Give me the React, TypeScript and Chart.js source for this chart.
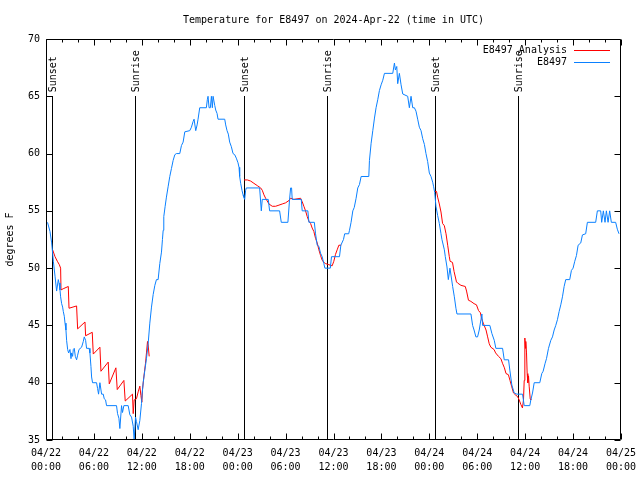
import { useEffect, useRef } from "react";
import { Chart, registerables } from "chart.js";

Chart.register(...registerables);

const TITLE = "Temperature for E8497 on 2024-Apr-22 (time in UTC)";
const Y_TITLE = "degrees F";
const FONT = '"DejaVu Sans Mono", "Liberation Mono", monospace';

const X_TICK_HOURS = [0, 6, 12, 18, 24, 30, 36, 42, 48, 54, 60, 66, 72];
const X_TICK_LABELS = [
  ["04/22", "00:00"], ["04/22", "06:00"], ["04/22", "12:00"], ["04/22", "18:00"],
  ["04/23", "00:00"], ["04/23", "06:00"], ["04/23", "12:00"], ["04/23", "18:00"],
  ["04/24", "00:00"], ["04/24", "06:00"], ["04/24", "12:00"], ["04/24", "18:00"],
  ["04/25", "00:00"],
];
const Y_MIN = 35;
const Y_MAX = 70;
const Y_STEP = 5;
const MARKER_TOP = 65;

const SUNSET_HOURS = [0.79, 24.84, 48.66];
const SUNRISE_HOURS = [11.16, 35.16, 59.04];

// station E8497 observations: [hours since 04/22 00:00 UTC, deg F]
const STATION_DAY1: [number, number][] = [
  [0.19, 54], [0.5, 53.2], [0.71, 52.2], [0.92, 50.6], [1.13, 49.3], [1.33, 48], [1.54, 49], [1.63, 48.7],
  [1.75, 48.1], [1.83, 47.5], [1.96, 46.9], [2.08, 46.6], [2.17, 46.2], [2.29, 45.8], [2.38, 45.2], [2.5, 44.6],
  [2.58, 43.7], [2.71, 42.9], [2.83, 42.6], [3.0, 42.9], [3.13, 42.1], [3.21, 42.6], [3.33, 42.3], [3.42, 42.9],
  [3.54, 43], [3.67, 42.3], [3.83, 42], [3.96, 42.4], [4.13, 42.9], [4.46, 43.1], [4.67, 43.6], [4.79, 44],
  [4.96, 43.7], [5.08, 43], [5.4, 43], [5.5, 42.6], [5.63, 41.4], [5.71, 40.5], [5.83, 40], [6.33, 40],
  [6.46, 39.5], [6.58, 39], [6.75, 40], [6.96, 39], [7.17, 39], [7.29, 38.6], [7.46, 38.5], [7.58, 38],
  [8.83, 38], [8.96, 37.3], [9.13, 36.9], [9.25, 36], [9.46, 38], [9.58, 37.4], [9.75, 38], [10.29, 38],
  [10.5, 37.2], [10.71, 37], [10.92, 36.2], [11.04, 35], [11.21, 37], [11.33, 36.6], [11.54, 35.9], [11.75, 36.7],
  [11.96, 38.2], [12.04, 39], [12.17, 40], [12.38, 41.1], [12.58, 42.1], [12.79, 43.4], [13.0, 45.2], [13.21, 46.6],
  [13.42, 47.7], [13.63, 48.5], [13.83, 49], [14.04, 49], [14.25, 50.4], [14.46, 51.4], [14.58, 52.5], [14.67, 53.3],
  [14.75, 54.5], [14.92, 55.4], [15.08, 56.2], [15.29, 57.1], [15.5, 58], [15.71, 58.7], [15.92, 59.4], [16.13, 59.9],
  [16.33, 60], [16.75, 60], [16.96, 60.7], [17.17, 61], [17.38, 61.9], [18.0, 62], [18.21, 62.3], [18.42, 62.8],
  [18.54, 63], [18.75, 62], [18.92, 62.5], [19.04, 63], [19.25, 64], [20.08, 64], [20.2, 64.7], [20.29, 65],
  [20.42, 64], [20.58, 64], [20.71, 65], [20.83, 64], [20.92, 65], [21.13, 64.2], [21.25, 63.8], [21.42, 63.5],
  [21.54, 63], [22.38, 63], [22.5, 62.5], [22.67, 62], [22.83, 61.7], [23.0, 61], [23.21, 60.6], [23.42, 60],
  [23.63, 59.9], [23.83, 59.6], [24.04, 59.2], [24.17, 58.8], [24.25, 58], [24.38, 57.4], [24.54, 56.8], [24.67, 56.4],
  [24.75, 56.2], [24.88, 56],
];
const STATION_DAY2: [number, number][] = [
  [25.0, 56.8], [25.08, 57], [26.75, 57], [26.96, 55], [27.08, 56], [27.83, 56], [28.0, 55], [29.25, 55],
  [29.46, 54], [30.29, 54], [30.5, 56], [30.63, 57], [30.75, 57], [30.83, 56], [31.96, 56], [32.08, 55],
  [32.79, 55], [32.92, 54], [33.6, 54], [33.75, 53], [33.96, 52], [34.17, 51.9], [34.38, 51.3], [34.58, 51],
  [34.79, 50.4], [34.92, 50], [35.6, 50], [35.75, 51], [36.75, 51], [36.92, 52], [37.25, 52.5], [37.4, 53],
  [37.9, 53], [38.0, 53.3], [38.2, 54], [38.42, 55], [38.6, 55.3], [38.83, 56.1], [39.04, 57], [39.25, 57.3],
  [39.46, 58], [40.42, 58], [40.5, 59.4], [40.71, 60.9], [40.92, 62], [41.13, 63.1], [41.33, 64], [41.54, 64.7],
  [41.75, 65.5], [41.96, 66], [42.17, 66.4], [42.38, 67], [43.42, 67], [43.63, 67.9], [43.75, 67.3], [43.92, 67.6],
  [44.04, 66.1], [44.25, 67], [44.46, 66], [44.67, 65.2], [45.29, 65], [45.5, 64], [45.71, 65], [45.92, 64],
  [46.13, 64], [46.33, 63.7], [46.54, 63], [46.75, 62.3], [46.96, 62], [47.17, 61.3], [47.38, 60.8], [47.58, 60],
  [47.79, 59.3], [48.0, 58.3], [48.21, 58], [48.42, 57.5], [48.54, 57.1], [48.67, 56.6], [48.83, 55.4],
];
const STATION_DAY3: [number, number][] = [
  [49.04, 54.6], [49.25, 53.9], [49.46, 53], [49.58, 52.5], [49.88, 51.6], [50.0, 51], [50.21, 50.1], [50.38, 49],
  [50.58, 50], [50.71, 49.4], [50.92, 48.4], [51.13, 47.5], [51.33, 46.5], [51.46, 46], [53.21, 46], [53.42, 45],
  [53.6, 44.6], [53.83, 44], [54.04, 44], [54.25, 44.6], [54.46, 45.5], [54.58, 46], [54.67, 45], [55.58, 45],
  [55.83, 44.3], [56.13, 43.7], [56.33, 43], [57.17, 43], [57.38, 42], [57.92, 42], [58.08, 41.1], [58.33, 39.8],
  [58.63, 39.1], [58.96, 39], [59.67, 39], [59.88, 38], [60.58, 38], [60.71, 38.5], [60.92, 39.1], [61.13, 40],
  [61.83, 40], [62.08, 40.8], [62.25, 41], [62.5, 41.7], [62.67, 42.1], [62.92, 43], [63.21, 43.7], [63.42, 44],
  [63.63, 44.6], [63.83, 45], [64.04, 45.5], [64.25, 46.2], [64.46, 46.8], [64.67, 47.5], [64.88, 48.4], [65.08, 49],
  [65.58, 49], [65.79, 49.8], [66.0, 50], [66.21, 50.6], [66.42, 51.1], [66.63, 52], [66.96, 52.2], [67.17, 52.9],
  [67.58, 53], [67.79, 54], [68.83, 54], [69.04, 55], [69.46, 55], [69.58, 54], [69.79, 55], [70.0, 54],
  [70.17, 55], [70.38, 54], [70.58, 55], [70.79, 54], [71.33, 54], [71.54, 53.4], [71.75, 53],
];

// E8497 Analysis (three nights)
const ANALYSIS_NIGHT1: [number, number][] = [
  [0.83, 51.6], [1.13, 51], [1.42, 50.6], [1.67, 50.3], [1.83, 50], [1.88, 48.1], [2.15, 48.2], [2.79, 48.4],
  [2.88, 46.5], [3.83, 46.7], [3.96, 44.7], [4.88, 45.3], [4.96, 44.1], [5.79, 44.4], [5.92, 42.5], [6.75, 43.1],
  [6.88, 41], [7.79, 41.8], [7.92, 39.9], [8.75, 41.3], [8.92, 39.4], [9.75, 40.2], [9.92, 38.4], [10.83, 39],
  [10.92, 37.3], [11.04, 38.5], [11.33, 38.6], [11.54, 39.2], [11.75, 39.7], [11.88, 38.9], [12.0, 38.3], [12.08, 39.4],
  [12.25, 40.5], [12.46, 41.7], [12.58, 42.6], [12.71, 43.6], [12.79, 43.3], [12.92, 42.3],
];
const ANALYSIS_NIGHT2: [number, number][] = [
  [24.79, 57.7], [25.21, 57.7], [25.63, 57.6], [26.04, 57.4], [26.46, 57.2], [26.88, 57], [27.08, 56.8], [27.29, 56.4],
  [27.5, 56.1], [27.92, 55.6], [28.33, 55.4], [28.75, 55.4], [29.17, 55.5], [29.58, 55.6], [30.0, 55.7], [30.42, 55.9],
  [30.63, 56.1], [31.04, 56], [31.88, 56.1], [32.08, 55.8], [32.29, 55.4], [32.5, 55], [32.71, 54.5], [32.92, 54.1],
  [33.13, 53.9], [33.33, 53.5], [33.54, 53.2], [33.75, 52.6], [33.96, 52.2], [34.17, 51.6], [34.38, 51.1], [34.58, 50.7],
  [34.79, 50.5], [35.0, 50.4], [35.42, 50.3], [35.83, 50.2], [36.04, 50.6], [36.25, 51.2], [36.46, 51.6], [36.67, 52],
  [36.96, 52],
];
const ANALYSIS_NIGHT3: [number, number][] = [
  [48.66, 56.7], [48.9, 56.7], [49.04, 56.2], [49.25, 55.6], [49.46, 54.9], [49.66, 53.9], [49.88, 53.7], [50.09, 53],
  [50.3, 52], [50.5, 51], [50.6, 50.6], [50.9, 50.5], [51.1, 49.7], [51.4, 48.8], [51.54, 48.7], [51.96, 48.5],
  [52.5, 48.4], [52.66, 48], [52.9, 47.2], [53.2, 47.1], [53.6, 46.9], [53.9, 46.8], [54.16, 46.3], [54.4, 46.1],
  [54.54, 45.6], [54.75, 45.2], [55.1, 44.6], [55.3, 44], [55.5, 43.4], [55.7, 43.1], [56.1, 42.9], [56.3, 42.6],
  [56.66, 42.3], [56.96, 42.1], [57.16, 41.7], [57.4, 41.3], [57.6, 40.8], [57.9, 40.7], [58.1, 40.2], [58.3, 39.7],
  [58.54, 39.1], [58.84, 38.9], [59.04, 38.8], [59.25, 38.5], [59.46, 38.1], [59.66, 37.8], [59.79, 38.5], [59.88, 40.2],
  [59.96, 43.9], [60.04, 43], [60.08, 43.6], [60.17, 42.6], [60.25, 40.8], [60.33, 40], [60.42, 40.6], [60.5, 39.7],
  [60.63, 38.6], [60.71, 38.5],
];

const toPts = (arr: [number, number][]) => arr.map(([x, y]) => ({ x, y }));

const gnuplotFrame = {
  id: "gnuplotFrame",
  beforeDatasetsDraw(chart: any) {
    const { ctx, scales } = chart;
    const x = scales.x;
    const y = scales.y;
    const yTop = y.getPixelForValue(MARKER_TOP);
    const yBot = y.getPixelForValue(Y_MIN);
    ctx.save();
    ctx.strokeStyle = "#000";
    ctx.fillStyle = "#000";
    ctx.lineWidth = 1;
    ctx.font = `10px ${FONT}`;
    const draw = (hours: number[], label: string) => {
      hours.forEach((h) => {
        const px = Math.round(x.getPixelForValue(h)) + 0.5;
        ctx.beginPath();
        ctx.moveTo(px, Math.round(yTop));
        ctx.lineTo(px, yBot);
        ctx.stroke();
        ctx.save();
        ctx.translate(px + 1, yTop - 4);
        ctx.rotate(-Math.PI / 2);
        ctx.textAlign = "left";
        ctx.textBaseline = "middle";
        ctx.fillText(label, 0, 0);
        ctx.restore();
      });
    };
    draw(SUNSET_HOURS, "Sunset");
    draw(SUNRISE_HOURS, "Sunrise");
    ctx.restore();
  },
  afterDraw(chart: any) {
    const { ctx, chartArea: a, scales } = chart;
    const x = scales.x;
    const y = scales.y;
    const L = Math.round(a.left) + 0.5;
    const R = Math.round(a.right) - 0.5;
    const T = Math.round(a.top) + 0.5;
    const B = Math.round(a.bottom) - 0.5;
    ctx.save();
    ctx.strokeStyle = "#000";
    ctx.lineWidth = 1;
    ctx.beginPath();
    ctx.rect(L, T, R - L, B - T);
    // x ticks (major + minor), bottom and top, inward
    for (let h = x.min; h <= x.max; h += 2) {
      const px = Math.round(x.getPixelForValue(h)) + 0.5;
      const len = h % 6 === 0 ? 6 : 3;
      ctx.moveTo(px, B);
      ctx.lineTo(px, B - len);
      ctx.moveTo(px, T);
      ctx.lineTo(px, T + len);
    }
    // y ticks left and right, inward
    y.ticks.forEach((t: any) => {
      const py = Math.round(y.getPixelForValue(t.value)) + 0.5;
      ctx.moveTo(L, py);
      ctx.lineTo(L + 6, py);
      ctx.moveTo(R, py);
      ctx.lineTo(R - 6, py);
    });
    ctx.stroke();

    // legend
    ctx.font = `10px ${FONT}`;
    ctx.fillStyle = "#000";
    ctx.textAlign = "right";
    ctx.textBaseline = "middle";
    chart.data.datasets.forEach((ds: any, i: number) => {
      const ly = a.top + 11 + i * 12;
      ctx.fillText(ds.label, a.right - 54, ly);
      ctx.strokeStyle = ds.borderColor;
      ctx.beginPath();
      ctx.moveTo(a.right - 47, Math.round(ly) + 0.5);
      ctx.lineTo(a.right - 11, Math.round(ly) + 0.5);
      ctx.stroke();
    });
    ctx.restore();
  },
};

export default function App() {
  const ref = useRef<HTMLCanvasElement | null>(null);

  useEffect(() => {
    if (!ref.current) return;
    Chart.defaults.color = "#000";
    Chart.defaults.font.family = FONT;
    Chart.defaults.font.size = 10;

    const analysis = [
      ...toPts(ANALYSIS_NIGHT1),
      { x: 18, y: null as any },
      ...toPts(ANALYSIS_NIGHT2),
      { x: 42, y: null as any },
      ...toPts(ANALYSIS_NIGHT3),
    ];
    const station = [...toPts(STATION_DAY1), ...toPts(STATION_DAY2), ...toPts(STATION_DAY3)];

    const chart = new Chart(ref.current, {
      type: "line",
      data: {
        datasets: [
          {
            label: "E8497 Analysis",
            data: analysis,
            borderColor: "#ff0000",
            borderWidth: 1,
            pointRadius: 0,
            tension: 0,
            spanGaps: false,
            order: 1,
          },
          {
            label: "E8497",
            data: station,
            borderColor: "#0a80ff",
            borderWidth: 1,
            pointRadius: 0,
            tension: 0,
            order: 0,
          },
        ],
      },
      options: {
        animation: false,
        responsive: true,
        maintainAspectRatio: false,
        devicePixelRatio: 1,
        layout: { padding: { left: 0, right: 19, top: 0, bottom: 0 } },
        plugins: {
          legend: { display: false },
          tooltip: { enabled: false },
          title: {
            display: true,
            text: TITLE,
            fullSize: false,
            color: "#000",
            font: { family: FONT, size: 10, weight: "normal", lineHeight: 1.2 },
            padding: { top: 14, bottom: 13 },
          },
        },
        scales: {
          x: {
            type: "linear",
            min: 0,
            max: 72,
            grid: { display: false, drawTicks: false },
            border: { display: false },
            afterBuildTicks: (scale: any) => {
              scale.ticks = X_TICK_HOURS.map((v) => ({ value: v }));
            },
            afterFit: (scale: any) => {
              scale.height = 40;
              scale.paddingLeft = 0;
              scale.paddingRight = 0;
            },
            ticks: {
              autoSkip: false,
              maxRotation: 0,
              minRotation: 0,
              padding: 6,
              color: "#000",
              font: { family: FONT, size: 10, lineHeight: "14px" },
              callback: (value: any) => X_TICK_LABELS[X_TICK_HOURS.indexOf(Number(value))] ?? "",
            },
          },
          y: {
            min: Y_MIN,
            max: Y_MAX,
            grid: { display: false, drawTicks: false },
            border: { display: false },
            afterFit: (scale: any) => {
              scale.width = 46;
            },
            ticks: {
              stepSize: Y_STEP,
              padding: 6,
              color: "#000",
              font: { family: FONT, size: 10 },
            },
            title: {
              display: true,
              text: Y_TITLE,
              color: "#000",
              font: { family: FONT, size: 10, lineHeight: 1.2 },
              padding: { top: 4, bottom: 0 },
            },
          },
        },
      } as any,
      plugins: [gnuplotFrame],
    });
    return () => chart.destroy();
  }, []);

  return (
    <div style={{ position: "fixed", left: 0, top: 0, width: 640, height: 480, background: "#fff" }}>
      <canvas ref={ref} />
    </div>
  );
}
